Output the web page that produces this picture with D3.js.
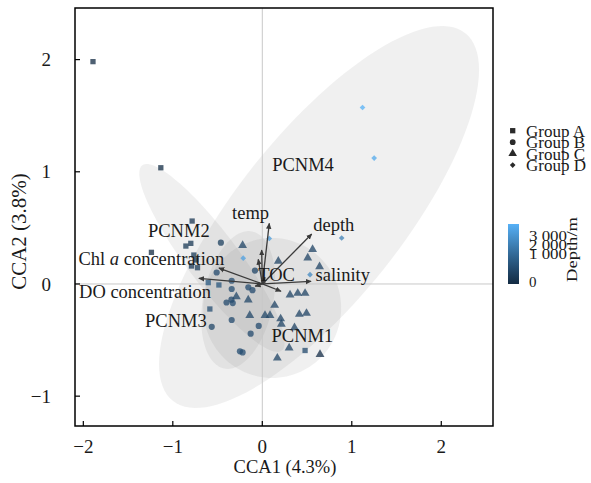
<!DOCTYPE html>
<html><head><meta charset="utf-8">
<script src="https://cdn.jsdelivr.net/npm/d3@7"></script>
<style>
body{margin:0;background:#fff}
svg{display:block}
text{font-family:"Liberation Serif","Times New Roman",serif;fill:#1a1a1a}
</style>
</head><body><svg id="c" width="591" height="483"></svg>
<script>
// ---------- data ----------
const groupNames = ["Group A","Group B","Group C","Group D"];
// Group A (squares)
const aX = [-1.892,-1.134,-1.239,-0.784,-0.854,-0.799,-0.765,-0.740,-0.791,-0.724,-0.604,-0.485,-0.586,0.478];
const aY = [1.982,1.036,0.282,0.561,0.338,0.362,0.258,0.214,0.160,0.145,0.012,-0.009,-0.223,-0.593];
const aDepth = [0,20,10,350,400,380,400,420,450,460,1300,1200,1000,900];
// Group B (circles)
const bX = [-0.463,-0.510,-0.342,-0.082,-0.156,-0.110,-0.342,-0.400,-0.330,-0.345,-0.342,-0.565,-0.040,-0.130,-0.250,-0.220];
const bY = [0.368,0.102,0.029,0.119,-0.030,-0.055,-0.045,-0.165,-0.170,-0.140,-0.321,-0.382,-0.374,-0.443,-0.600,-0.610];
const bDepth = [600,900,1000,700,900,900,1000,900,1000,900,900,800,900,900,1000,1000];
// Group C (triangles)
const cX = [-0.220,0.179,0.562,0.508,0.640,0.310,0.396,0.478,-0.290,-0.157,0.138,-0.140,0.030,0.086,0.205,0.213,0.414,0.494,0.360,0.300,0.168,0.645];
const cY = [0.344,0.203,0.308,0.233,0.154,-0.097,-0.083,-0.083,-0.113,-0.142,-0.190,-0.280,-0.280,-0.280,-0.310,-0.358,-0.270,-0.261,-0.390,-0.570,-0.660,-0.628];
const cDepth = [700,700,700,700,700,700,700,700,800,800,700,800,800,800,700,700,700,700,700,700,700,100];
// Group D (diamonds)
const dX = [1.120,1.250,0.887,0.533,0.078,-0.213];
const dY = [1.573,1.122,0.410,0.083,0.405,0.230];
const dDepth = [3500,3300,2300,2500,3000,3100];

// confidence ellipses per group: centre + 2x2 shape matrix (data units)
const ellCX = [-0.562,-0.269,0.110,0.634];
const ellCY = [0.232,-0.143,-0.214,0.597];
const ellM  = [[0.779,-0.232,-0.826,-0.139],[0.156,0.383,0.611,-0.062],[0.771,0,0,0.624],[1.634,-0.726,1.639,0.4605]];

// environmental vectors
const envNames = ["temp","depth","salinity","TOC","Chl a concentration","DO concentration","PCNM1","PCNM2","PCNM3","PCNM4"];
const envX = [0.078,0.552,0.545,0.030,-0.485,-0.709,0.209,-0.045,-0.080,-0.007];
const envY = [0.540,0.445,0.024,0.060,0.142,0.050,-0.065,0.220,-0.020,0.303];
const labX = [-0.131,0.799,0.899,0.160,-1.239,-1.310,0.448,-0.933,-0.966,0.455];
const labY = [0.576,0.469,0.024,0.030,0.172,-0.125,-0.519,0.421,-0.386,1.009];

const xTicks = [-2,-1,0,1,2];
const yTicks = [-1,0,1,2];
const depthTicks = [0,1000,2000,3000];
const depthTickLabels = ["0","1 000","2 000","3 000"];

// ---------- layout ----------
const L=75,R=493,T=8,B=426;
const svg = d3.select("#c");
const x = d3.scaleLinear().domain([-2.093,2.578]).range([L,R]);
const y = d3.scaleLinear().domain([-1.266,2.46]).range([B,T]);
const col = d3.scaleLinear().domain([0,3500]).range(["#132B43","#56B1F7"]).interpolate(d3.interpolateLab);

const defs = svg.append("defs");
defs.append("clipPath").attr("id","clip").append("rect").attr("x",L).attr("y",T).attr("width",R-L).attr("height",B-T);
defs.append("marker").attr("id","ah").attr("viewBox","0 0 10 10").attr("refX",9).attr("refY",5)
  .attr("markerWidth",6).attr("markerHeight",6).attr("markerUnits","userSpaceOnUse").attr("orient","auto")
  .append("path").attr("d","M0,0.5L10,5L0,9.5Z").attr("fill","#3a3a3a");
const grad = defs.append("linearGradient").attr("id","dg").attr("x1",0).attr("y1",1).attr("x2",0).attr("y2",0);
d3.range(0,1.0001,0.1).forEach(t=>grad.append("stop").attr("offset",t).attr("stop-color",col(t*3500)));

const panel = svg.append("g").attr("clip-path","url(#clip)");

// ellipses
const ellLine = d3.line().x(d=>x(d[0])).y(d=>y(d[1]));
ellCX.forEach((cx,i)=>{
  const m = ellM[i];
  const pts = d3.range(0,361,3).map(a=>{const t=a*Math.PI/180;
    return [cx+m[0]*Math.cos(t)+m[1]*Math.sin(t), ellCY[i]+m[2]*Math.cos(t)+m[3]*Math.sin(t)];});
  panel.append("path").attr("d",ellLine(pts)+"Z").attr("fill","#808080").attr("fill-opacity",0.12);
});

// reference lines
panel.append("line").attr("x1",x(0)).attr("x2",x(0)).attr("y1",T).attr("y2",B).attr("stroke","#c8c8c8").attr("stroke-width",1);
panel.append("line").attr("x1",L).attr("x2",R).attr("y1",y(0)).attr("y2",y(0)).attr("stroke","#c8c8c8").attr("stroke-width",1);

// points
const groupsData = [
  {xs:aX,ys:aY,ds:aDepth,type:d3.symbolSquare,size:28,rot:0},
  {xs:bX,ys:bY,ds:bDepth,type:d3.symbolCircle,size:30,rot:0},
  {xs:cX,ys:cY,ds:cDepth,type:d3.symbolTriangle,size:34,rot:0},
  {xs:dX,ys:dY,ds:dDepth,type:d3.symbolSquare,size:16,rot:45}
];
groupsData.forEach(g=>{
  const sym = d3.symbol().type(g.type).size(g.size);
  g.xs.forEach((v,i)=>{
    panel.append("path").attr("d",sym())
      .attr("transform",`translate(${x(v)},${y(g.ys[i])}) rotate(${g.rot})`)
      .attr("fill",col(g.ds[i])).attr("fill-opacity",0.75);
  });
});

// arrows
envNames.forEach((n,i)=>{
  panel.append("line").attr("x1",x(0)).attr("y1",y(0)).attr("x2",x(envX[i])).attr("y2",y(envY[i]))
    .attr("stroke","#3a3a3a").attr("stroke-width",1.3).attr("marker-end","url(#ah)");
});
// labels
envNames.forEach((n,i)=>{
  const t = svg.append("text").attr("x",x(labX[i])).attr("y",y(labY[i])).attr("text-anchor","middle").attr("font-size",18.5);
  if(n.startsWith("Chl a")){
    t.append("tspan").text("Chl ");
    t.append("tspan").attr("font-style","italic").text("a");
    t.append("tspan").text(" concentration");
  } else t.text(n);
});

// frame
svg.append("rect").attr("x",L).attr("y",T).attr("width",R-L).attr("height",B-T).attr("fill","none").attr("stroke","#000").attr("stroke-width",1.5);

// ticks (inward)
xTicks.forEach(v=>{
  svg.append("line").attr("x1",x(v)).attr("x2",x(v)).attr("y1",B).attr("y2",B-5).attr("stroke","#000").attr("stroke-width",1.2);
  svg.append("text").attr("x",x(v)).attr("y",452.5).attr("text-anchor","middle").attr("font-size",19).text(v<0?"\u2212"+(-v):v);
});
yTicks.forEach(v=>{
  svg.append("line").attr("x1",L).attr("x2",L+5).attr("y1",y(v)).attr("y2",y(v)).attr("stroke","#000").attr("stroke-width",1.2);
  svg.append("text").attr("x",51).attr("y",y(v)).attr("dy","0.35em").attr("text-anchor","end").attr("font-size",19).text(v<0?"\u2212"+(-v):v);
});
svg.append("text").attr("x",(L+R)/2+1).attr("y",472.5).attr("text-anchor","middle").attr("font-size",18.5).text("CCA1 (4.3%)");
svg.append("text").attr("transform","translate(26,231.5) rotate(-90)").attr("text-anchor","middle").attr("font-size",21)
  .text("CCA2 (3.8%)");

// shape legend
const legSyms=[[d3.symbolSquare,28,0],[d3.symbolCircle,26,0],[d3.symbolTriangle,32,0],[d3.symbolSquare,16,45]];
groupNames.forEach((g,i)=>{
  const yy = 130.7 + i*11.45;
  svg.append("path").attr("d",d3.symbol().type(legSyms[i][0]).size(legSyms[i][1])())
    .attr("transform",`translate(512.7,${yy}) rotate(${legSyms[i][2]})`).attr("fill","#2a2a2a");
  svg.append("text").attr("x",526).attr("y",yy+6).attr("font-size",17).text(g);
});

// colour bar
svg.append("rect").attr("x",508).attr("y",224).attr("width",11).attr("height",60).attr("fill","url(#dg)");
const ly = d3.scaleLinear().domain(depthTicks).range([282,254,245,236]);
depthTicks.forEach((v,i)=>{
  const t = svg.append("text").attr("x",529).attr("y",ly(v)+5).attr("font-size",15).text(depthTickLabels[i]);
  if(depthTickLabels[i].length>1) t.attr("textLength",38).attr("lengthAdjust","spacingAndGlyphs");
});
svg.append("text").attr("transform","translate(577,249.5) rotate(-90)").attr("text-anchor","middle").attr("font-size",15)
  .attr("textLength",65).attr("lengthAdjust","spacingAndGlyphs").text("Depth/m");
</script></body></html>
